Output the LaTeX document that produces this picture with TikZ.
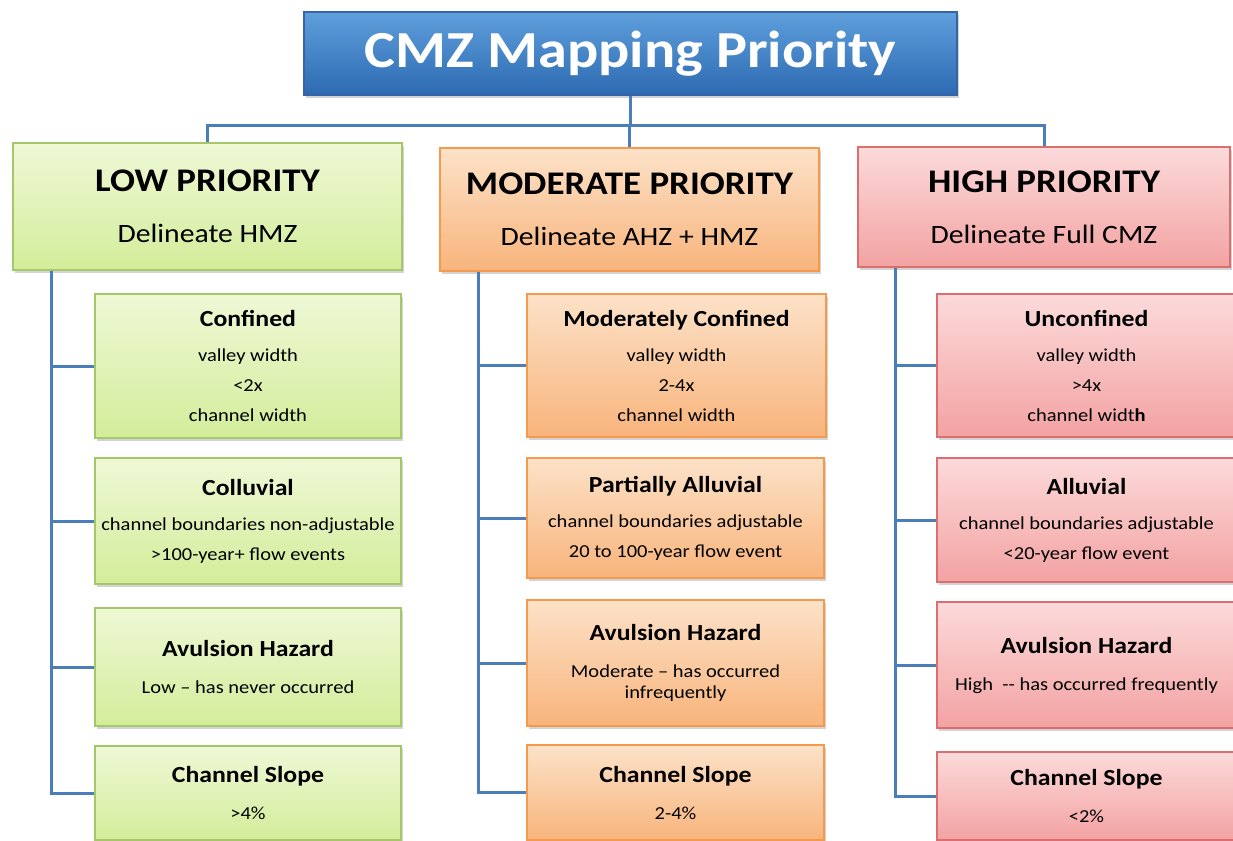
\documentclass[tikz,border=0pt]{standalone}
\usepackage{fontspec}
\setmainfont{Carlito}[FakeStretch=1.12]
\usetikzlibrary{shadows}
\definecolor{conncol}{HTML}{4A7EBB}
\definecolor{bluetop}{HTML}{5F9FDC}
\definecolor{bluebot}{HTML}{2D6AB2}
\definecolor{blueborder}{HTML}{3465A4}
\definecolor{lowtop}{HTML}{EFF8D6}
\definecolor{lowbot}{HTML}{D3ED9A}
\definecolor{lowborder}{HTML}{A6C66A}
\definecolor{modtop}{HTML}{FCE2C8}
\definecolor{modbot}{HTML}{F8B47C}
\definecolor{modborder}{HTML}{F59A4C}
\definecolor{hightop}{HTML}{FCDADA}
\definecolor{highbot}{HTML}{F3A2A2}
\definecolor{highborder}{HTML}{DB6F6F}
\newcommand\chd[1]{{\fontsize{23}{26}\selectfont\bfseries #1}}
\newcommand\cathd[1]{{\fontsize{33}{36}\selectfont\bfseries #1}}
\begin{document}
\begin{tikzpicture}[x=1pt,y=-1pt,
  box/.style={draw, line width=1.2pt, inner sep=0pt, align=center,
    drop shadow={shadow xshift=2pt, shadow yshift=-3pt, opacity=0.35}},
  titlebox/.style={box, draw=blueborder, top color=bluetop, bottom color=bluebot,
    text=white, font=\fontsize{52}{60}\selectfont\bfseries},
  lowbox/.style={box, draw=lowborder, top color=lowtop, bottom color=lowbot},
  modbox/.style={box, draw=modborder, top color=modtop, bottom color=modbot},
  highbox/.style={box, draw=highborder, top color=hightop, bottom color=highbot},
  cat/.style={font=\fontsize{26.5}{30}\selectfont},
  child/.style={font=\fontsize{18.3}{30}\selectfont},
  conn/.style={draw=conncol, line width=3pt}
]
\useasboundingbox (0,0) rectangle (1233,840);

% title
\node[titlebox, minimum width=653pt, minimum height=83pt] (title) at (630.5,53.5) {CMZ Mapping Priority};

% categories
\node[lowbox, cat, minimum width=389pt, minimum height=127pt] (low) at (207.5,206.5)
  {\cathd{LOW PRIORITY}\\[21pt] Delineate HMZ};
\node[modbox, cat, minimum width=379pt, minimum height=123pt] (mod) at (629.5,209.5)
  {\cathd{MODERATE PRIORITY}\\[21pt] Delineate AHZ + HMZ};
\node[highbox, cat, minimum width=372pt, minimum height=120pt] (high) at (1044,207)
  {\cathd{HIGH PRIORITY}\\[21pt] Delineate Full CMZ};

% low column
\node[lowbox, child, minimum width=306pt, minimum height=144pt] (l1) at (248,366)
  {\chd{Confined}\\[5pt] valley width\\ <2x\\ channel width};
\node[lowbox, child, minimum width=306pt, minimum height=126pt] (l2) at (248,521)
  {\chd{Colluvial}\\[5pt] channel boundaries non-adjustable\\ >100-year+ flow events};
\node[lowbox, child, minimum width=306pt, minimum height=118pt] (l3) at (248,667)
  {\chd{Avulsion Hazard}\\[7pt] Low – has never occurred};
\node[lowbox, child, minimum width=306pt, minimum height=94pt] (l4) at (248,793)
  {\chd{Channel Slope}\\[7pt] >4\%};

% moderate column
\node[modbox, child, minimum width=299pt, minimum height=143pt] (m1) at (676.5,365.5)
  {\chd{Moderately Confined}\\[5pt] valley width\\ 2-4x\\ channel width};
\node[modbox, child, minimum width=297pt, minimum height=120pt] (m2) at (675.5,518)
  {\chd{Partially\ Alluvial}\\[5pt] channel boundaries adjustable\\ 20 to 100-year flow event};
\node[modbox, child, minimum width=297pt, minimum height=126pt] (m3) at (675.5,663)
  {\chd{Avulsion Hazard}\\[7pt] Moderate – has occurred\\[-9pt] infrequently};
\node[modbox, child, minimum width=297pt, minimum height=95pt] (m4) at (675.5,792.5)
  {\chd{Channel Slope}\\[7pt] 2-4\%};

% high column
\node[highbox, child, minimum width=299pt, minimum height=143pt] (h1) at (1086.5,365.5)
  {\chd{Unconfined}\\[5pt] valley width\\ >4x\\ channel widt\textbf{h}};
\node[highbox, child, minimum width=299pt, minimum height=124pt] (h2) at (1086.5,520)
  {\chd{Alluvial}\\[5pt] channel boundaries adjustable\\ <20-year flow event};
\node[highbox, child, minimum width=299pt, minimum height=126pt] (h3) at (1086.5,665)
  {\chd{Avulsion Hazard}\\[7pt] High\ \ -{}- has occurred frequently};
\node[highbox, child, minimum width=299pt, minimum height=88pt] (h4) at (1086.5,796)
  {\chd{Channel Slope}\\[7pt] <2\%};

% top connectors
\coordinate (bus) at (630,126);
\draw[conn] (title.south) -- (title.south |- bus);
\draw[conn] (low.north) -- (low.north |- bus) -- (high.north |- bus) -- (high.north);
\draw[conn] (mod.north) -- (mod.north |- bus);

% spines
\coordinate (ls) at (51,0);
\coordinate (ms) at (478,0);
\coordinate (hs) at (895,0);
\draw[conn] (ls |- low.south) -- (ls |- l4.west) -- (l4.west);
\foreach \n in {l1,l2,l3} \draw[conn] (ls |- \n.west) -- (\n.west);
\draw[conn] (ms |- mod.south) -- (ms |- m4.west) -- (m4.west);
\foreach \n in {m1,m2,m3} \draw[conn] (ms |- \n.west) -- (\n.west);
\draw[conn] (hs |- high.south) -- (hs |- h4.west) -- (h4.west);
\foreach \n in {h1,h2,h3} \draw[conn] (hs |- \n.west) -- (\n.west);
\end{tikzpicture}
\end{document}
